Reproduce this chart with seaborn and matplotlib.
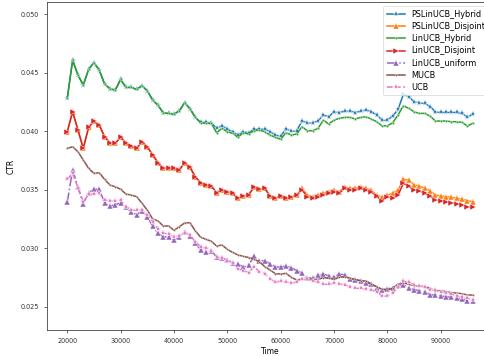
import matplotlib
matplotlib.use("Agg")
import matplotlib.pyplot as plt
import seaborn as sns
import pandas as pd

time = list(range(20000, 97000, 1000))

ps_linucb_hybrid = [
    0.04280, 0.04607, 0.04479, 0.04394, 0.04528, 0.04584, 0.04522, 0.04402, 0.04362, 0.04351,
    0.04442, 0.04374, 0.04374, 0.04357, 0.04388, 0.04345, 0.04266, 0.04221, 0.04157, 0.04152,
    0.04144, 0.04174, 0.04243, 0.04192, 0.04118, 0.04075, 0.04076, 0.04072, 0.04024, 0.04046,
    0.04016, 0.03995, 0.03967, 0.03995, 0.03987, 0.04016, 0.04021, 0.04018, 0.03995, 0.03967,
    0.03959, 0.04018, 0.04001, 0.04004, 0.04087, 0.04072, 0.04072, 0.04087, 0.04138, 0.04123,
    0.04166, 0.04157, 0.04174, 0.04174, 0.04157, 0.04174, 0.04180, 0.04166, 0.04138, 0.04095,
    0.04095, 0.04129, 0.04186, 0.04314, 0.04294, 0.04251, 0.04243, 0.04238, 0.04209, 0.04166,
    0.04161, 0.04161, 0.04161, 0.04161, 0.04152, 0.04118, 0.04146]

ps_linucb_disjoint = [
    0.03995, 0.04166, 0.04010, 0.03854, 0.04033, 0.04087, 0.04052, 0.03953, 0.03901, 0.03896,
    0.03948, 0.03901, 0.03873, 0.03854, 0.03910, 0.03867, 0.03797, 0.03731, 0.03683, 0.03690,
    0.03683, 0.03669, 0.03731, 0.03692, 0.03611, 0.03560, 0.03541, 0.03532, 0.03475, 0.03498,
    0.03483, 0.03470, 0.03427, 0.03447, 0.03455, 0.03526, 0.03504, 0.03513, 0.03447, 0.03427,
    0.03447, 0.03427, 0.03436, 0.03455, 0.03513, 0.03456, 0.03442, 0.03456, 0.03470, 0.03485,
    0.03498, 0.03485, 0.03528, 0.03513, 0.03513, 0.03528, 0.03513, 0.03498, 0.03455, 0.03436,
    0.03455, 0.03470, 0.03498, 0.03589, 0.03583, 0.03541, 0.03532, 0.03513, 0.03492, 0.03455,
    0.03447, 0.03441, 0.03436, 0.03427, 0.03419, 0.03407, 0.03398]

linucb_hybrid = [
    0.04280, 0.04607, 0.04479, 0.04394, 0.04528, 0.04584, 0.04522, 0.04402, 0.04362, 0.04351,
    0.04442, 0.04374, 0.04374, 0.04357, 0.04388, 0.04345, 0.04266, 0.04221, 0.04157, 0.04152,
    0.04144, 0.04174, 0.04243, 0.04192, 0.04118, 0.04072, 0.04067, 0.04067, 0.03987, 0.04024,
    0.03995, 0.03982, 0.03948, 0.03987, 0.03976, 0.04004, 0.04010, 0.03995, 0.03967, 0.03948,
    0.03931, 0.03987, 0.03967, 0.03976, 0.04038, 0.04004, 0.04004, 0.04024, 0.04095, 0.04061,
    0.04095, 0.04110, 0.04118, 0.04118, 0.04104, 0.04118, 0.04123, 0.04104, 0.04081, 0.04046,
    0.04046, 0.04072, 0.04138, 0.04217, 0.04195, 0.04166, 0.04152, 0.04152, 0.04129, 0.04087,
    0.04087, 0.04087, 0.04081, 0.04081, 0.04075, 0.04044, 0.04067]

linucb_disjoint = [
    0.03995, 0.04166, 0.04010, 0.03854, 0.04033, 0.04087, 0.04052, 0.03953, 0.03901, 0.03896,
    0.03948, 0.03901, 0.03873, 0.03854, 0.03910, 0.03867, 0.03797, 0.03731, 0.03683, 0.03690,
    0.03683, 0.03669, 0.03731, 0.03692, 0.03611, 0.03560, 0.03541, 0.03532, 0.03475, 0.03498,
    0.03483, 0.03470, 0.03427, 0.03447, 0.03455, 0.03526, 0.03504, 0.03513, 0.03447, 0.03427,
    0.03447, 0.03427, 0.03436, 0.03455, 0.03498, 0.03441, 0.03427, 0.03441, 0.03455, 0.03470,
    0.03483, 0.03470, 0.03513, 0.03498, 0.03498, 0.03513, 0.03498, 0.03483, 0.03443, 0.03407,
    0.03441, 0.03427, 0.03455, 0.03555, 0.03532, 0.03498, 0.03492, 0.03470, 0.03447, 0.03413,
    0.03407, 0.03398, 0.03390, 0.03379, 0.03370, 0.03356, 0.03350]

linucb_uniform = [
    0.03394, 0.03671, 0.03524, 0.03381, 0.03475, 0.03504, 0.03504, 0.03387, 0.03359, 0.03374,
    0.03387, 0.03350, 0.03309, 0.03289, 0.03317, 0.03270, 0.03191, 0.03129, 0.03097, 0.03100,
    0.03072, 0.03095, 0.03142, 0.03106, 0.03048, 0.02986, 0.02972, 0.02980, 0.02924, 0.02915,
    0.02901, 0.02878, 0.02867, 0.02839, 0.02858, 0.02932, 0.02895, 0.02895, 0.02868, 0.02844,
    0.02839, 0.02850, 0.02835, 0.02810, 0.02787, 0.02750, 0.02745, 0.02773, 0.02779, 0.02767,
    0.02758, 0.02781, 0.02773, 0.02736, 0.02730, 0.02722, 0.02705, 0.02694, 0.02665, 0.02648,
    0.02654, 0.02665, 0.02682, 0.02688, 0.02665, 0.02648, 0.02639, 0.02631, 0.02605, 0.02602,
    0.02594, 0.02588, 0.02583, 0.02574, 0.02566, 0.02554, 0.02549]

mucb = [
    0.03854, 0.03867, 0.03825, 0.03754, 0.03683, 0.03640, 0.03646, 0.03589, 0.03541, 0.03526,
    0.03504, 0.03464, 0.03455, 0.03441, 0.03385, 0.03327, 0.03251, 0.03234, 0.03191, 0.03191,
    0.03154, 0.03185, 0.03217, 0.03219, 0.03150, 0.03095, 0.03077, 0.03061, 0.03020, 0.03029,
    0.02992, 0.02965, 0.02944, 0.02932, 0.02922, 0.02908, 0.02886, 0.02845, 0.02816, 0.02784,
    0.02781, 0.02787, 0.02753, 0.02730, 0.02741, 0.02745, 0.02733, 0.02736, 0.02750, 0.02745,
    0.02739, 0.02753, 0.02758, 0.02745, 0.02736, 0.02724, 0.02722, 0.02696, 0.02673, 0.02651,
    0.02645, 0.02660, 0.02696, 0.02707, 0.02694, 0.02682, 0.02679, 0.02673, 0.02660, 0.02639,
    0.02639, 0.02631, 0.02622, 0.02619, 0.02613, 0.02602, 0.02602]

ucb = [
    0.03589, 0.03640, 0.03519, 0.03398, 0.03460, 0.03466, 0.03470, 0.03413, 0.03407, 0.03407,
    0.03410, 0.03356, 0.03330, 0.03325, 0.03330, 0.03285, 0.03228, 0.03167, 0.03131, 0.03121,
    0.03095, 0.03106, 0.03129, 0.03114, 0.03057, 0.03014, 0.03001, 0.02980, 0.02929, 0.02915,
    0.02895, 0.02873, 0.02822, 0.02810, 0.02793, 0.02844, 0.02801, 0.02783, 0.02741, 0.02709,
    0.02724, 0.02713, 0.02707, 0.02711, 0.02741, 0.02736, 0.02724, 0.02711, 0.02694, 0.02694,
    0.02705, 0.02699, 0.02688, 0.02668, 0.02660, 0.02660, 0.02651, 0.02645, 0.02631, 0.02596,
    0.02594, 0.02617, 0.02673, 0.02719, 0.02711, 0.02690, 0.02679, 0.02673, 0.02645, 0.02642,
    0.02631, 0.02617, 0.02611, 0.02594, 0.02583, 0.02574, 0.02562]

series = [
    ("PSLinUCB_Hybrid", ps_linucb_hybrid, "#1f77b4", "*", "-", 4.5),
    ("PSLinUCB_Disjoint", ps_linucb_disjoint, "#ff7f0e", "^", "-", 4.0),
    ("LinUCB_Hybrid", linucb_hybrid, "#2ca02c", ".", "-", 3.5),
    ("LinUCB_Disjoint", linucb_disjoint, "#d62728", ">", "-", 4.0),
    ("LinUCB_uniform", linucb_uniform, "#9467bd", "^", "-.", 4.0),
    ("MUCB", mucb, "#8c564b", ".", "-", 3.0),
    ("UCB", ucb, "#e377c2", "*", "--", 4.0),
]

fig = plt.figure(figsize=(4.84, 3.56), dpi=100)
ax = fig.add_axes([47 / 484, 0.0719, (493 - 47) / 484, 0.9216])

for name, vals, color, marker, ls, ms in series:
    df = pd.DataFrame({"Time": time, "CTR": vals})
    sns.lineplot(data=df, x="Time", y="CTR", ax=ax, color=color, marker=marker,
                 linestyle=ls, markersize=ms, linewidth=1.1, markeredgewidth=0.3,
                 label=name)

ax.set_xlim(16200, 99800)
ax.set_ylim(0.023, 0.051)
ax.set_xticks(range(20000, 100000, 10000))
ax.set_yticks([0.025, 0.030, 0.035, 0.040, 0.045, 0.050])
ax.tick_params(labelsize=4.7, length=2, width=0.5, colors="#333333")
for s in ax.spines.values():
    s.set_linewidth(0.6)
    s.set_color("#444444")
ax.set_xlabel("Time", fontsize=5.5, labelpad=2)
ax.set_ylabel("CTR", fontsize=5.5, labelpad=4)
leg = ax.legend(loc="upper right", fontsize=5.9, frameon=True, handlelength=2.2,
                labelspacing=0.38, borderpad=0.45)
leg.get_frame().set_linewidth(0.5)

fig.savefig("out.png", dpi=100)
